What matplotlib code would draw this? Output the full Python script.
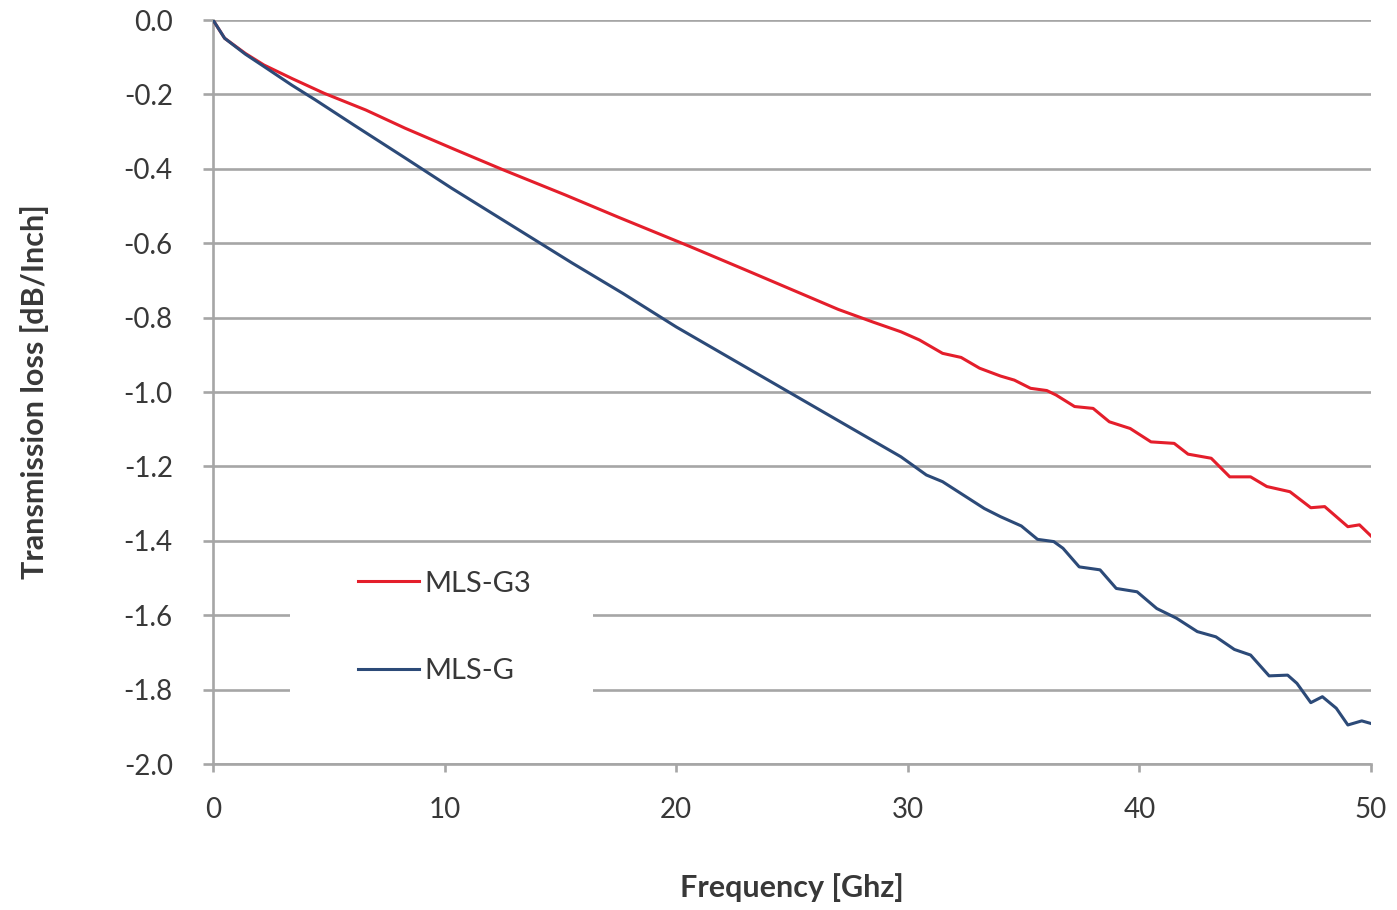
import matplotlib.pyplot as plt
from matplotlib.patches import Rectangle

# ---------------------------------
# Data
# ---------------------------------
freq_g3 = [0, 0.5, 1.4, 2.2, 3.4, 4.8, 6.6, 8.3, 10.4, 12.5, 15.2, 17.5, 20.6,
           23.0, 25.0, 27.0, 28.5, 29.7, 30.5, 31.5, 32.3, 33.1, 34.0, 34.6,
           35.3, 36.0, 36.4, 37.2, 38.0, 38.7, 39.6, 40.5, 41.5, 42.1, 43.1,
           43.9, 44.8, 45.5, 46.5, 47.4, 48.0, 49.0, 49.5, 50.0]
loss_g3 = [0, -0.049, -0.090, -0.121, -0.157, -0.197, -0.242, -0.291, -0.347,
           -0.402, -0.470, -0.530, -0.609, -0.672, -0.725, -0.778, -0.812,
           -0.838, -0.860, -0.896, -0.907, -0.936, -0.957, -0.968, -0.990,
           -0.996, -1.008, -1.039, -1.044, -1.080, -1.098, -1.134, -1.138,
           -1.167, -1.178, -1.228, -1.228, -1.254, -1.268, -1.311, -1.308,
           -1.362, -1.357, -1.387]

freq_g = [0, 0.5, 1.4, 2.2, 3.4, 4.4, 6.1, 8.3, 10.3, 12.5, 14.0, 15.5, 17.7,
          20.0, 22.5, 25.0, 27.5, 29.7, 30.8, 31.5, 32.4, 33.3, 34.0, 34.9,
          35.6, 36.3, 36.7, 37.4, 38.3, 39.0, 39.9, 40.75, 41.6, 42.5, 43.3,
          44.1, 44.8, 45.6, 46.4, 46.8, 47.4, 47.9, 48.5, 49.0, 49.6, 50.0]
loss_g = [0, -0.049, -0.092, -0.125, -0.175, -0.214, -0.283, -0.371, -0.452,
          -0.537, -0.595, -0.653, -0.735, -0.825, -0.915, -1.005, -1.095,
          -1.174, -1.223, -1.241, -1.277, -1.313, -1.335, -1.360, -1.396,
          -1.402, -1.420, -1.470, -1.478, -1.528, -1.537, -1.582, -1.608,
          -1.644, -1.658, -1.692, -1.707, -1.763, -1.761, -1.783, -1.835,
          -1.819, -1.850, -1.895, -1.884, -1.891]

x_ticks = [0, 10, 20, 30, 40, 50]
y_ticks = [0.0, -0.2, -0.4, -0.6, -0.8, -1.0, -1.2, -1.4, -1.6, -1.8, -2.0]

# ---------------------------------
# Plot
# ---------------------------------
plt.rcParams['font.family'] = ['Lato', 'DejaVu Sans']
grid_col = '#a6a6a6'
text_col = '#383838'

fig = plt.figure(figsize=(13.97, 9.10), dpi=100)
ax = fig.add_axes([0.1525, 0.1604, 0.8289, 0.8176])

ax.plot(freq_g3, loss_g3, color='#e41e2b', lw=2.2, label='MLS-G3', zorder=3)
ax.plot(freq_g, loss_g, color='#2c4a78', lw=2.2, label='MLS-G', zorder=3)

ax.set_xlim(0, 50)
ax.set_ylim(-2.0, 0.0)
ax.set_xticks(x_ticks)
ax.set_yticks(y_ticks)
ax.set_yticklabels([f"{v:.1f}" for v in y_ticks])

ax.set_axisbelow(True)
ax.yaxis.grid(True, color=grid_col, lw=1.9)
for side in ['top', 'right']:
    ax.spines[side].set_visible(False)
for side in ['left', 'bottom']:
    ax.spines[side].set_color(grid_col)
    ax.spines[side].set_linewidth(1.9)

ax.tick_params(axis='y', length=7, width=1.9, color=grid_col, pad=22,
               labelsize=20, labelcolor=text_col)
ax.tick_params(axis='x', length=6, width=1.9, color=grid_col, pad=18,
               labelsize=20, labelcolor=text_col)

ax.set_xlabel("Frequency [Ghz]", fontsize=22, fontweight='bold',
              color=text_col, labelpad=36)
ax.set_ylabel("Transmission loss [dB/Inch]", fontsize=22, fontweight='bold',
              color=text_col, labelpad=54)

# white legend area that hides the gridlines
ax.add_patch(Rectangle((0.0665, 0.066), 0.262, 0.22, transform=ax.transAxes,
                       facecolor='white', edgecolor='none', zorder=1))
leg = ax.legend(loc='center', bbox_to_anchor=(0.2, 0.184), frameon=False,
                fontsize=21, handlelength=2.1, handletextpad=0.2,
                labelspacing=2.1, labelcolor=text_col)
leg.set_zorder(4)

plt.savefig("out.png", dpi=100)
